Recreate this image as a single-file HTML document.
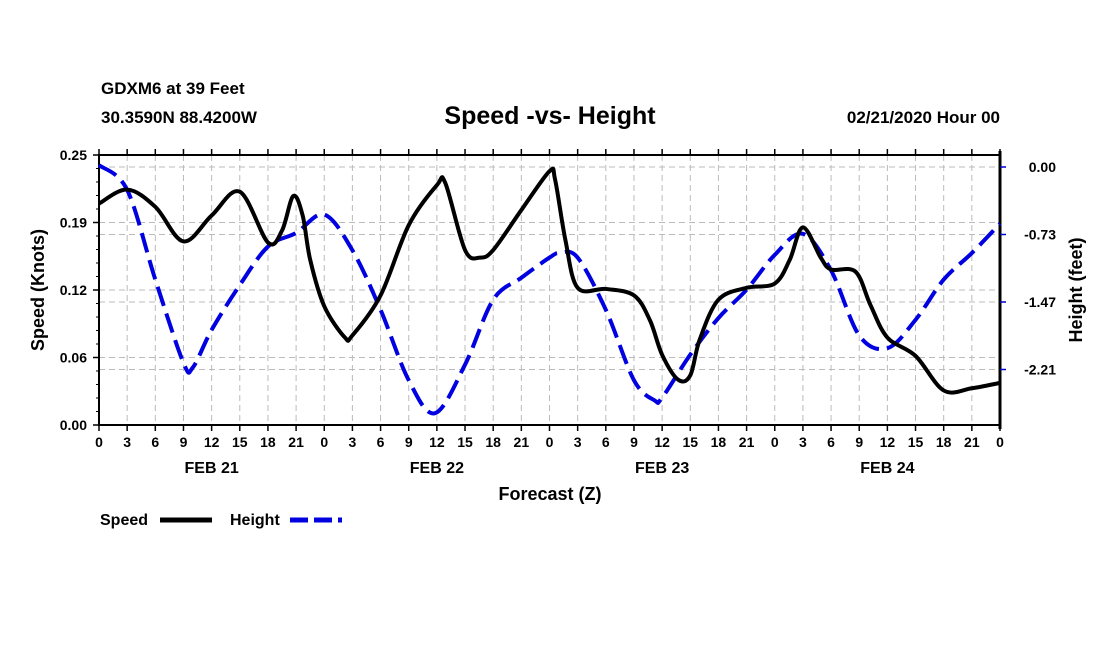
<!DOCTYPE html>
<html><head><meta charset="utf-8"><style>
body{margin:0;background:#fff;}
svg{display:block;font-family:"Liberation Sans",Arial,sans-serif;font-weight:bold;}
</style></head><body>
<svg id="chart" width="1100" height="650" viewBox="0 0 1100 650">
<rect width="1100" height="650" fill="#fff"/>
<text x="101" y="94" font-size="17">GDXM6 at 39 Feet</text>
<text x="101" y="123" font-size="17">30.3590N 88.4200W</text>
<text x="550" y="124" font-size="25" text-anchor="middle">Speed -vs- Height</text>
<text x="1000" y="123" font-size="17" text-anchor="end">02/21/2020 Hour 00</text>
<g id="grid"></g><g id="axes"></g><g id="series"></g>
<text x="550" y="500" font-size="18" text-anchor="middle">Forecast (Z)</text>
<text transform="translate(44,290) rotate(-90)" font-size="18" text-anchor="middle">Speed (Knots)</text>
<text transform="translate(1082,290) rotate(-90)" font-size="18" text-anchor="middle">Height (feet)</text>
<g>
<text x="100" y="525" font-size="16">Speed</text>
<line x1="160" y1="520" x2="212" y2="520" stroke="#000" stroke-width="5"/>
<text x="230" y="525" font-size="16">Height</text>
<line x1="290" y1="520" x2="342" y2="520" stroke="#0000e0" stroke-width="5" stroke-dasharray="18,6"/>
</g>
</svg>
<script>
const speedHours=[0,3,6,9,12,15,18,19.5,20.7,21.7,22.5,24,26.2,27,30,33,36,36.9,39,40.6,42,45,48,48.6,49.7,51,54,57,58.7,60,61.7,63,64,66,69,72,73.6,75,76.9,78,80.6,82.2,84,87,90,93,96];
const speedValues=[0.205,0.218,0.202,0.170,0.194,0.216,0.169,0.180,0.212,0.194,0.153,0.110,0.081,0.083,0.120,0.185,0.222,0.224,0.162,0.155,0.162,0.199,0.235,0.227,0.171,0.127,0.126,0.120,0.097,0.065,0.042,0.046,0.079,0.116,0.127,0.131,0.153,0.183,0.155,0.144,0.142,0.111,0.081,0.064,0.032,0.034,0.039];
const heightHours=[0,3,6,9,10,12,15,18,21,24,27,30,33,35.8,39,42,45,48,49.1,51,54,57,59.2,60,63,66,69,72,75,78,81,84,87,90,93,96];
const heightValues=[0.02,-0.25,-1.23,-2.14,-2.19,-1.78,-1.29,-0.87,-0.72,-0.52,-0.91,-1.56,-2.33,-2.69,-2.16,-1.45,-1.21,-0.99,-0.94,-0.99,-1.56,-2.33,-2.55,-2.52,-2.05,-1.65,-1.34,-0.96,-0.73,-1.13,-1.84,-1.98,-1.67,-1.23,-0.94,-0.62];
const leftTicks=[0,0.0625,0.125,0.1875,0.25];
const leftTickLabels=["0.00","0.06","0.12","0.19","0.25"];
const rightTicks=[0,-0.7375,-1.475,-2.2125];
const rightTickLabels=["0.00","-0.73","-1.47","-2.21"];
const hourLabels=["0","3","6","9","12","15","18","21"];
const dayLabels=["FEB 21","FEB 22","FEB 23","FEB 24"];

const X0=99,X1=1000,Y0=425,Y1=155;
const x=h=>X0+h/96*(X1-X0);
const yL=v=>Y0-v/0.25*(Y0-Y1);
const yR=v=>167-v/0.7375*67.5;
const NS="http://www.w3.org/2000/svg";
function mk(tag,attrs,parent){const e=document.createElementNS(NS,tag);for(const k in attrs)e.setAttribute(k,attrs[k]);parent.appendChild(e);return e;}
const grid=document.getElementById('grid'),axes=document.getElementById('axes'),series=document.getElementById('series');
const gs={stroke:"#bbb","stroke-width":1,"stroke-dasharray":"6,4"};
for(let h=3;h<96;h+=3){const l=mk('line',Object.assign({x1:x(h),x2:x(h),y1:Y1,y2:Y0},gs),grid);

}
leftTicks.slice(1,-1).forEach(v=>{const l=mk('line',Object.assign({x1:X0,x2:X1,y1:yL(v),y2:yL(v)},gs),grid);

});
rightTicks.forEach(v=>{const l=mk('line',Object.assign({x1:X0,x2:X1,y1:yR(v),y2:yR(v)},gs),grid);

});
const fr=mk('rect',{x:X0,y:Y1,width:X1-X0,height:Y0-Y1,fill:"none",stroke:"#000","stroke-width":2},axes);


const ra=mk('line',{x1:X1,x2:X1,y1:Y1-4,y2:Y0+4,stroke:"#000","stroke-width":3},axes);


for(let h=0;h<=96;h+=3){
 mk('line',{x1:x(h),x2:x(h),y1:Y0,y2:Y0+6,stroke:"#000","stroke-width":1.5},axes);
 mk('line',{x1:x(h),x2:x(h),y1:Y1,y2:Y1-6,stroke:"#000","stroke-width":1.5},axes);
 const t=mk('text',{x:x(h),y:Y0+22,"font-size":14,"text-anchor":"middle"},axes);
 t.textContent=hourLabels[(h/3)%8];
 
 
}
dayLabels.forEach((d,i)=>{const t=mk('text',{x:x(12+24*i),y:473,"font-size":16,"text-anchor":"middle"},axes);t.textContent=d;

});
leftTicks.forEach((v,i)=>{mk('line',{x1:X0-6,x2:X0,y1:yL(v),y2:yL(v),stroke:"#000","stroke-width":1.5},axes);
 const t=mk('text',{x:X0-12,y:yL(v)+5,"font-size":14,"text-anchor":"end"},axes);t.textContent=leftTickLabels[i];
 
 });
for(let v=0;v<=0.25;v+=0.0125)mk('line',{x1:X0-3,x2:X0,y1:yL(v),y2:yL(v),stroke:"#000","stroke-width":1},axes);
rightTicks.forEach((v,i)=>{mk('line',{x1:X1,x2:X1+6,y1:yR(v),y2:yR(v),stroke:"#00c","stroke-width":1.5},axes);
 const t=mk('text',{x:1056,y:yR(v)+5,"font-size":14,"text-anchor":"end"},axes);t.textContent=rightTickLabels[i];
 
 });
function smooth(pts){let d=`M${pts[0][0]},${pts[0][1]}`;
 for(let i=0;i<pts.length-1;i++){const p0=pts[Math.max(i-1,0)],p1=pts[i],p2=pts[i+1],p3=pts[Math.min(i+2,pts.length-1)];
 const c1=[p1[0]+(p2[0]-p0[0])/6,p1[1]+(p2[1]-p0[1])/6],c2=[p2[0]-(p3[0]-p1[0])/6,p2[1]-(p3[1]-p1[1])/6];
 d+=` C${c1[0]},${c1[1]} ${c2[0]},${c2[1]} ${p2[0]},${p2[1]}`;}return d;}
const hp=mk('path',{d:smooth(heightHours.map((h,i)=>[x(h),yR(heightValues[i])])),fill:"none",stroke:"#0000e0","stroke-width":4,"stroke-dasharray":"20,8"},series);


const sp=mk('path',{d:smooth(speedHours.map((h,i)=>[x(h),yL(speedValues[i])])),fill:"none",stroke:"#000","stroke-width":4},series);


</script>
</body></html>
